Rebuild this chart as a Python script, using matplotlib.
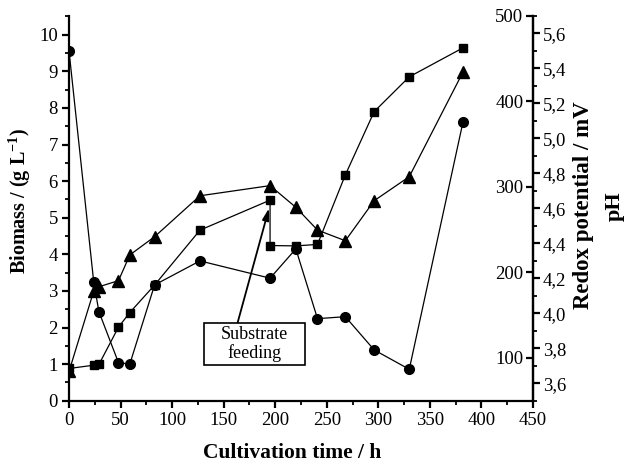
import matplotlib
matplotlib.use("Agg")
import matplotlib.pyplot as plt
from matplotlib.ticker import MultipleLocator, FuncFormatter
from matplotlib.patches import Rectangle

plt.rcParams['font.family'] = ['Liberation Serif', 'DejaVu Serif']
plt.rcParams['mathtext.fontset'] = 'custom'
plt.rcParams['mathtext.rm'] = 'Liberation Serif'
plt.rcParams['mathtext.bf'] = 'Liberation Serif:bold'

# Biomass (squares)
t_bio = [0, 24, 29, 48, 59, 83, 127, 195, 195, 220, 241, 268, 296, 330, 382]
biomass = [0.88, 0.97, 0.99, 2.01, 2.41, 3.16, 4.66, 5.48, 4.24, 4.23, 4.27, 6.17, 7.90, 8.85, 9.64]

# pH (triangles)
t_ph = [0, 24, 29, 48, 59, 83, 127, 195, 220, 241, 268, 296, 330, 382]
ph = [3.667, 4.127, 4.151, 4.186, 4.333, 4.437, 4.671, 4.729, 4.605, 4.475, 4.414, 4.643, 4.78, 5.377]

# Redox potential (circles)
t_redox = [0, 24, 29, 48, 59, 83, 127, 195, 220, 241, 268, 296, 330, 382]
redox = [459, 188.5, 154.1, 94.4, 92.9, 185.3, 213.4, 193.2, 227.4, 145.9, 148.2, 109.3, 86.7, 375.2]

x_ticks = [0, 50, 100, 150, 200, 250, 300, 350, 400, 450]
bio_ticks = [0, 1, 2, 3, 4, 5, 6, 7, 8, 9, 10]
redox_ticks = [100, 200, 300, 400, 500]
ph_ticks = [3.6, 3.8, 4.0, 4.2, 4.4, 4.6, 4.8, 5.0, 5.2, 5.4, 5.6]

fig = plt.figure(figsize=(6.32, 4.67), dpi=100)
ax = fig.add_axes([69/632, 1-400.7/467, 464/632, 385/467])
ax2 = ax.twinx()
ax3 = ax.twinx()

lw_sp = 1.6
tick_fs = 13.5
lab_fs = 15.5
ax.set_xlim(0, 450)
ax.set_ylim(0, 10.52)
ax2.set_ylim(50, 500)
ax3.set_ylim(3.5, 5.7)

ax.plot(t_bio, biomass, color='black', lw=0.9, marker='s', ms=6.3, zorder=3)
ax3.plot(t_ph, ph, color='black', lw=0.9, marker='^', ms=8.3, zorder=3)
ax2.plot(t_redox, redox, color='black', lw=0.9, marker='o', ms=7, zorder=3)

for a in (ax, ax2, ax3):
    for s in a.spines.values():
        s.set_visible(False)
    a.patch.set_visible(False)

ax.spines['left'].set_visible(True)
ax.spines['bottom'].set_visible(True)
ax.spines['left'].set_linewidth(lw_sp)
ax.spines['bottom'].set_linewidth(lw_sp)

ax.set_xticks(x_ticks)
ax.set_yticks(bio_ticks)
ax.xaxis.set_minor_locator(MultipleLocator(25))
ax.yaxis.set_minor_locator(MultipleLocator(0.5))
ax.tick_params(axis='both', which='major', direction='out', length=5, width=1.6, labelsize=tick_fs, pad=3)
ax.tick_params(axis='both', which='minor', direction='out', length=3, width=1.3)

# Redox axis: spine at right, ticks & labels on its left side
ax2.spines['left'].set_visible(True)
ax2.spines['left'].set_position(('axes', 1.0))
ax2.spines['left'].set_linewidth(lw_sp)
ax2.yaxis.set_ticks_position('left')
ax2.yaxis.set_label_position('left')
ax2.set_yticks(redox_ticks)
ax2.tick_params(axis='y', which='major', direction='out', length=5, width=1.6, labelsize=tick_fs, pad=2)

# pH axis on right
ax3.spines['right'].set_visible(True)
ax3.spines['right'].set_linewidth(lw_sp)
ax3.set_yticks(ph_ticks)
ax3.yaxis.set_minor_locator(MultipleLocator(0.1))
ax3.yaxis.set_major_formatter(FuncFormatter(lambda v, p: f"{v:.1f}".replace('.', ',')))
ax3.tick_params(axis='y', which='major', direction='out', length=5, width=1.6, labelsize=tick_fs, pad=2)
ax3.tick_params(axis='y', which='minor', direction='out', length=3, width=1.3)

ax.set_xlabel('Cultivation time / h', fontsize=lab_fs, fontweight='bold')
ax.xaxis.set_label_coords(0.48, -0.11)
ax.set_ylabel('Biomass / (g L$^{\\mathbf{-1}}$)', fontsize=14.5, fontweight='bold')
ax.yaxis.set_label_coords(-0.078, 0.52)

fig.text(584/632, 1-205/467, 'Redox potential / mV', rotation=90, fontsize=16.5,
         fontweight='bold', ha='center', va='center')
fig.text(615/632, 1-206/467, 'pH', rotation=90, fontsize=16,
         fontweight='bold', ha='center', va='center')

# annotation
ax.add_patch(Rectangle((131, 0.975), 98, 1.155, fc='white', ec='black', lw=1.2, zorder=5))
ax.text(180, 1.55, 'Substrate\nfeeding', ha='center', va='center', fontsize=13,
        linespacing=1.05, zorder=6)
ax.annotate('', xy=(194, 5.26), xytext=(163.5, 2.13),
            arrowprops=dict(arrowstyle='-|>,head_length=0.7,head_width=0.2', color='black', lw=1.3,
                            shrinkA=0, shrinkB=0), zorder=4)

fig.savefig('out.png', dpi=100)
